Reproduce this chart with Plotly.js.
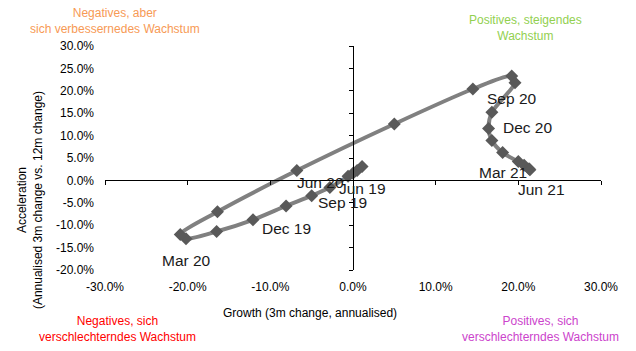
<!DOCTYPE html>
<html>
<head>
<meta charset="utf-8">
<script src="https://cdn.plot.ly/plotly-3.0.1.min.js"></script>
<style>
  html, body { margin: 0; padding: 0; background: #fff; }
  #chart { width: 636px; height: 351px; }
</style>
</head>
<body>
<div id="chart"></div>
<script>
// Monthly points, Jun 19 .. Jun 21 (values in %)
const months = ["Jun 19","Jul 19","Aug 19","Sep 19","Oct 19","Nov 19","Dec 19","Jan 20","Feb 20","Mar 20","Apr 20","May 20","Jun 20","Jul 20","Aug 20","Sep 20","Oct 20","Nov 20","Dec 20","Jan 21","Feb 21","Mar 21","Apr 21","May 21","Jun 21"];
const growth = [1.1, 0.5, 0.0, -0.6, -2.8, -5.0, -8.1, -12.1, -16.5, -20.2, -20.9, -16.4, -6.8, 5.0, 14.5, 19.2, 19.6, 16.8, 16.4, 16.8, 18.1, 20.0, 20.7, 21.3, 21.4];
const acceleration = [3.1, 2.2, 1.6, 0.9, -1.6, -3.4, -5.7, -8.8, -11.4, -13.0, -12.1, -7.0, 2.2, 12.6, 20.4, 23.3, 21.8, 15.2, 11.6, 8.9, 6.2, 4.2, 3.4, 2.6, 2.4];

// Which months get a data label
const labelledMonths = ["Jun 19","Sep 19","Dec 19","Mar 20","Jun 20","Sep 20","Dec 20","Mar 21","Jun 21"];

// Tick labels
const xTickVals = [-30, -20, -10, 0, 10, 20, 30];
const yTickVals = [-20, -15, -10, -5, 0, 5, 10, 15, 20, 25, 30];
const fmt = v => v.toFixed(1) + "%";
const xTickText = xTickVals.map(fmt);
const yTickText = yTickVals.map(fmt);

// Label offsets in pixels (styling, not data)
const labelShift = {
  "Jun 19": [0, -22], "Sep 19": [-6, -26], "Dec 19": [0, -23], "Mar 20": [0, -22],
  "Jun 20": [24, -12], "Sep 20": [0, -22], "Dec 20": [39, 1], "Mar 21": [-15, -11], "Jun 21": [12, -20]
};

const FONT = "Liberation Sans, Arial, sans-serif";

const traces = [
  {
    x: growth, y: acceleration, type: "scatter", mode: "lines+markers",
    line: { color: "#808080", width: 4, shape: "spline", smoothing: 0.8 },
    marker: { symbol: "diamond", size: 10, color: "#595959" },
    hoverinfo: "skip"
  },
  { x: [], y: [], xaxis: "x2", yaxis: "y2", type: "scatter", mode: "markers", hoverinfo: "skip" }
];

const annotations = [];
labelledMonths.forEach(m => {
  const i = months.indexOf(m);
  const s = labelShift[m];
  annotations.push({
    x: growth[i], y: acceleration[i], xref: "x", yref: "y", text: m, showarrow: false,
    xshift: s[0], yshift: s[1], font: { family: FONT, size: 15.5, color: "#1a1a1a" }
  });
});

const quadNotes = [
  { text: "Negatives, aber<br>sich verbessernedes Wachstum", x: 0.020, y: 1.112, color: "#F79A55" },
  { text: "Positives, steigendes<br>Wachstum", x: 0.847, y: 1.081, color: "#92D050" },
  { text: "Negatives, sich<br>verschlechterndes Wachstum", x: 0.026, y: -0.262, color: "#FF0000" },
  { text: "Positives, sich<br>verschlechterndes Wachstum", x: 0.879, y: -0.262, color: "#CC44CC" }
];
quadNotes.forEach(q => annotations.push({
  xref: "paper", yref: "paper", x: q.x, y: q.y, text: q.text, showarrow: false,
  xanchor: "center", yanchor: "middle", align: "center",
  font: { family: FONT, size: 12, color: q.color }
}));

// Axis titles
annotations.push({
  xref: "paper", yref: "paper", x: 0.414, y: -0.19, text: "Growth (3m change, annualised)",
  showarrow: false, xanchor: "center", yanchor: "middle", font: { family: FONT, size: 12, color: "#000" }
});
annotations.push({
  xref: "paper", yref: "paper", x: -0.151, y: 0.3125,
  text: "Acceleration<br>(Annualised 3m change vs. 12m change)", textangle: -90,
  showarrow: false, xanchor: "center", yanchor: "middle", font: { family: FONT, size: 12, color: "#000" }
});

const layout = {
  width: 636, height: 351,
  margin: { l: 105, r: 35, t: 46, b: 81 },
  paper_bgcolor: "#ffffff", plot_bgcolor: "#ffffff",
  showlegend: false, hovermode: false,
  font: { family: FONT, size: 12, color: "#000" },
  xaxis: {
    range: [-30, 30], showgrid: false, zeroline: false, showline: false,
    tickmode: "array", tickvals: xTickVals, ticktext: xTickText,
    ticks: "", ticklabelstandoff: 8, tickfont: { family: FONT, size: 12, color: "#000" }
  },
  yaxis: {
    range: [-20, 30], showgrid: false, zeroline: false, showline: false,
    tickmode: "array", tickvals: yTickVals, ticktext: yTickText,
    ticks: "", ticklabelstandoff: 10, tickfont: { family: FONT, size: 12, color: "#000" }
  },
  xaxis2: {
    overlaying: "x", anchor: "free", position: 0.4, side: "bottom", range: [-30, 30],
    showgrid: false, zeroline: false, showline: true, linecolor: "#000", linewidth: 1,
    tickmode: "array", tickvals: xTickVals, ticks: "outside", ticklen: 4, tickcolor: "#000",
    showticklabels: false
  },
  yaxis2: {
    overlaying: "y", anchor: "free", position: 0.5, side: "left", range: [-20, 30],
    showgrid: false, zeroline: false, showline: true, linecolor: "#000", linewidth: 1,
    tickmode: "array", tickvals: yTickVals, ticks: "outside", ticklen: 4, tickcolor: "#000",
    showticklabels: false
  },
  annotations: annotations
};

Plotly.newPlot("chart", traces, layout, { displayModeBar: false, staticPlot: true });
</script>
</body>
</html>
